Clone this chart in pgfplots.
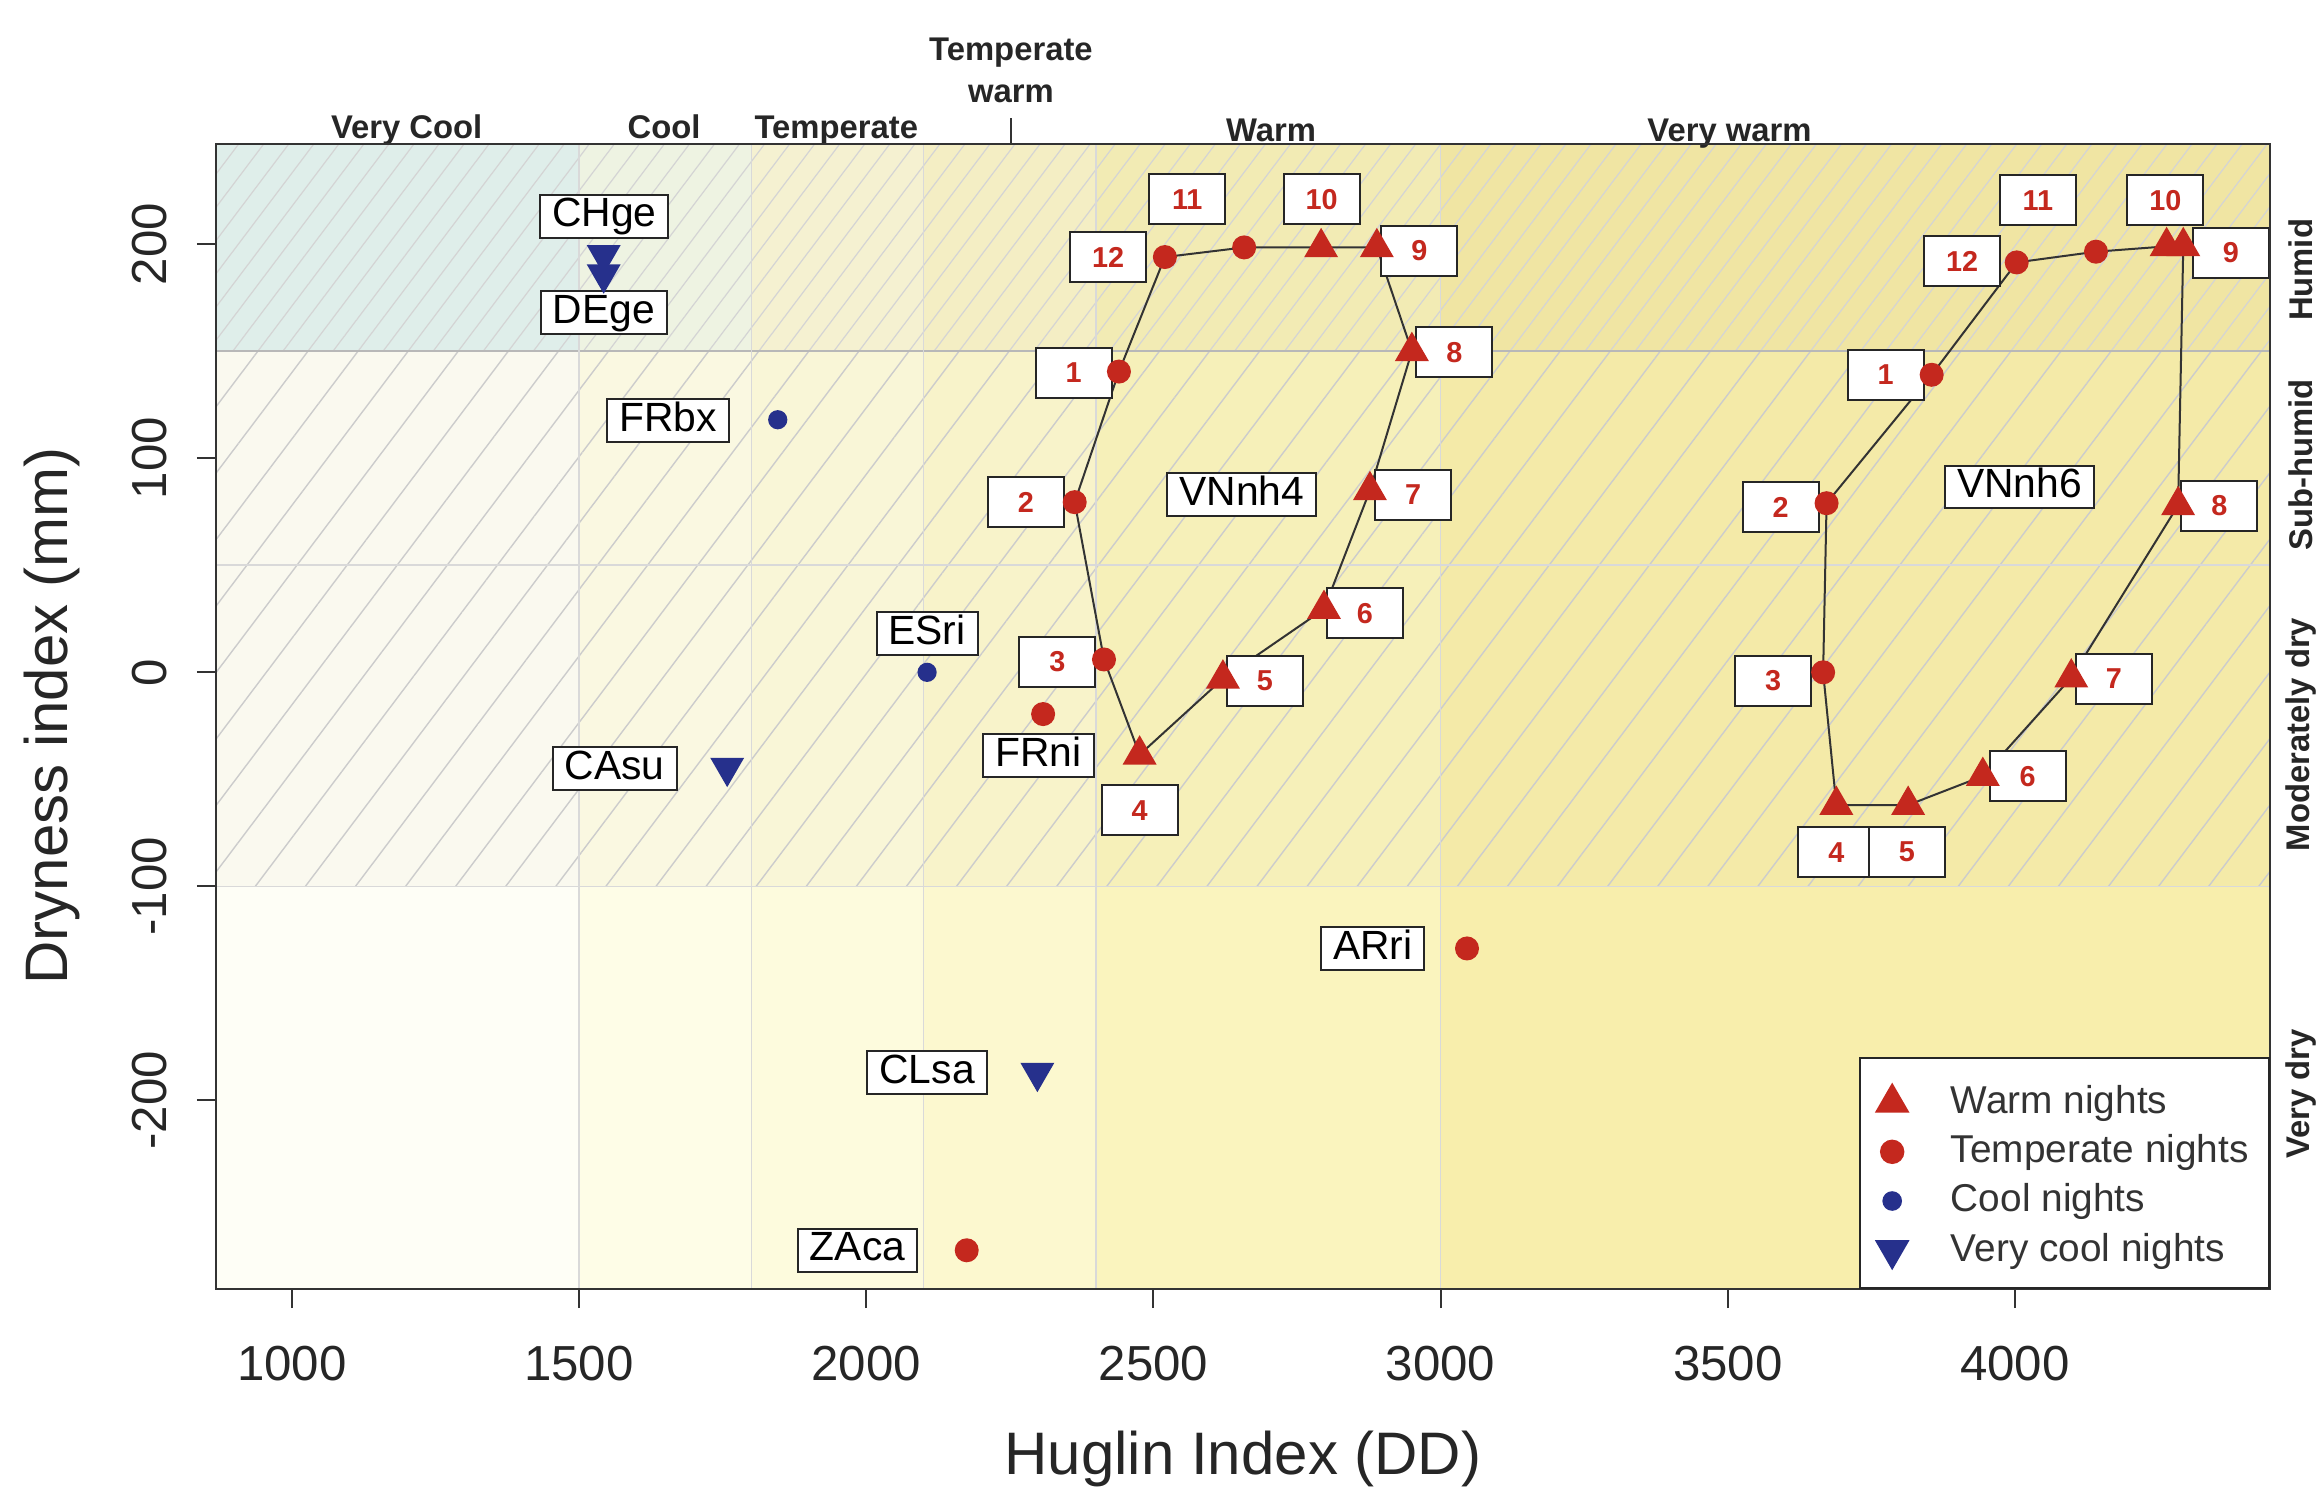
\documentclass[border=0pt]{standalone}
\usepackage{pgfplots}
\pgfplotsset{compat=1.18}
\usepackage{fontspec}
\setmainfont{Liberation Sans}
\usetikzlibrary{patterns.meta}

\definecolor{mred}{RGB}{196,40,30}
\definecolor{mblue}{RGB}{38,48,140}
\definecolor{bA}{RGB}{254,254,246}
\definecolor{bB}{RGB}{254,253,231}
\definecolor{bC}{RGB}{253,251,221}
\definecolor{bD}{RGB}{252,248,207}
\definecolor{bE}{RGB}{250,244,190}
\definecolor{bF}{RGB}{248,238,172}
\definecolor{tanov}{RGB}{150,120,50}
\definecolor{cyanov}{RGB}{205,232,232}

\tikzset{
  slab/.style={draw=black!85, line width=0.5pt, fill=white, text=black,
    font=\fontsize{10.2}{12}\selectfont, inner xsep=3pt, inner ysep=0.6pt,
    text height=7.4pt, text depth=2.1pt},
  mlab/.style={draw=black!85, line width=0.5pt, fill=white, text=mred,
    font=\bfseries\fontsize{7.2}{8}\selectfont, minimum width=19pt,
    minimum height=12.5pt, inner sep=0pt},
  toplab/.style={font=\bfseries\fontsize{8.2}{9}\selectfont, text=black!85, anchor=base},
  sidelab/.style={font=\bfseries\fontsize{8.2}{9}\selectfont, text=black!85, rotate=90, anchor=center},
}

\begin{document}
\begin{tikzpicture}
\useasboundingbox (-54pt,-50.55pt) rectangle (526.75pt,322.2pt);
\begin{axis}[
  at={(0,0)}, anchor=south west,
  width=513.5pt, height=286.3pt, scale only axis,
  xmin=868, xmax=4444, ymin=-288, ymax=247,
  clip=false, axis on top,
  xtick={1000,1500,2000,2500,3000,3500,4000},
  ytick={-200,-100,0,100,200},
  xtick pos=left, ytick pos=left,
  tick align=outside, major tick length=4.8pt,
  every tick/.style={black!80, line width=0.5pt},
  axis line style={black!80, line width=0.5pt},
  /pgf/number format/assume math mode=true,
  /pgf/number format/1000 sep={},
  tick label style={font=\fontsize{12.3}{14}\selectfont, text=black!85},
  xticklabel shift=6pt,
  yticklabel style={rotate=90, anchor=south},
  yticklabel shift=4pt,
  xlabel={Huglin Index (DD)}, ylabel={Dryness index (mm)},
  label style={font=\fontsize{15}{18}\selectfont, text=black!85},
  xlabel style={at={([yshift=-42.6pt]axis description cs:0.5,0)}, anchor=center},
  ylabel style={at={([xshift=-41pt]axis description cs:0,0.5)}, anchor=center},
  legend cell align=left,
  legend image post style={yshift=-1.6pt},
  legend style={at={(1,0)}, anchor=south east,
    draw=black!85, line width=0.5pt, fill=white,
    font=\fontsize{9.7}{11}\selectfont,
    inner xsep=4.1pt, inner ysep=4.9pt, row sep=3.1pt,
    nodes={inner xsep=0pt, inner ysep=0pt, text height=8.9pt, text depth=0.3pt, text=black!80},
    /tikz/every odd column/.append style={column sep=10.8pt}},
]
% ---- background bands ----
\addplot[draw=none, fill=bA, forget plot] coordinates {(868,-288) (1500,-288) (1500,247) (868,247)} -- cycle;
\addplot[draw=none, fill=bB, forget plot] coordinates {(1500,-288) (1800,-288) (1800,247) (1500,247)} -- cycle;
\addplot[draw=none, fill=bC, forget plot] coordinates {(1800,-288) (2100,-288) (2100,247) (1800,247)} -- cycle;
\addplot[draw=none, fill=bD, forget plot] coordinates {(2100,-288) (2400,-288) (2400,247) (2100,247)} -- cycle;
\addplot[draw=none, fill=bE, forget plot] coordinates {(2400,-288) (3000,-288) (3000,247) (2400,247)} -- cycle;
\addplot[draw=none, fill=bF, forget plot] coordinates {(3000,-288) (4444,-288) (4444,247) (3000,247)} -- cycle;
% overlays
\addplot[draw=none, fill=tanov, fill opacity=0.03, forget plot] coordinates {(868,-100) (4444,-100) (4444,247) (868,247)} -- cycle;
\addplot[draw=none, fill=tanov, fill opacity=0.035, forget plot] coordinates {(1800,150) (4444,150) (4444,247) (1800,247)} -- cycle;
\addplot[draw=none, fill=cyanov, fill opacity=0.6, forget plot] coordinates {(868,150) (1500,150) (1500,247) (868,247)} -- cycle;
\addplot[draw=none, fill=cyanov, fill opacity=0.25, forget plot] coordinates {(1500,150) (1800,150) (1800,247) (1500,247)} -- cycle;
% hatching
\addplot[draw=none, pattern={Lines[angle=53,distance=10pt,line width=0.35pt]}, pattern color=black!20, forget plot] coordinates {(868,-100) (4444,-100) (4444,150) (868,150)} -- cycle;
\addplot[draw=none, pattern={Lines[angle=53,distance=5pt,line width=0.3pt]}, pattern color=black!17, forget plot] coordinates {(868,150) (4444,150) (4444,247) (868,247)} -- cycle;
% class boundaries
\addplot[forget plot, black!28, line width=0.4pt] coordinates {(868,150) (4444,150)};
\addplot[forget plot, black!15, line width=0.4pt] coordinates {(868,50) (4444,50)};
\addplot[forget plot, black!15, line width=0.4pt] coordinates {(868,-100) (4444,-100)};
\addplot[forget plot, black!15, line width=0.4pt] coordinates {(1500,-288) (1500,247)};
\addplot[forget plot, black!15, line width=0.4pt] coordinates {(1800,-288) (1800,247)};
\addplot[forget plot, black!15, line width=0.4pt] coordinates {(2100,-288) (2100,247)};
\addplot[forget plot, black!15, line width=0.4pt] coordinates {(2400,-288) (2400,247)};
\addplot[forget plot, black!15, line width=0.4pt] coordinates {(3000,-288) (3000,247)};

% ---- monthly cycles ----
\addplot[forget plot, no markers, black!80, line width=0.5pt] coordinates {
 (2440,140.5) (2363,79.5) (2414,6) (2476,-38.5) (2621,-3) (2797,29.5)
 (2877,85) (2950,150) (2889,198.5) (2792,198.5) (2658,198.5) (2520,194) (2440,140.5)};
\addplot[forget plot, no markers, black!80, line width=0.5pt] coordinates {
 (3855,139) (3672,79) (3666,0) (3689,-62) (3814,-62) (3944,-48.5)
 (4098,-2.5) (4284,78) (4293,199) (4264,199) (4141,196.5) (4003,191.5) (3855,139)};

% ---- points ----
\addplot[only marks, mark=triangle*, mark size=4.5pt, color=mred] coordinates {
 (2476,-38.5) (2621,-3) (2797,29.5) (2877,85) (2950,150) (2889,198.5) (2792,198.5)
 (3689,-62) (3814,-62) (3944,-48.5) (4098,-2.5) (4284,78) (4293,199) (4264,199)};
\addlegendentry{Warm nights}
\addplot[only marks, mark=*, mark size=2.8pt, color=mred] coordinates {
 (2658,198.5) (2520,194) (2440,140.5) (2363,79.5) (2414,6)
 (4141,196.5) (4003,191.5) (3855,139) (3672,79) (3666,0)
 (2308,-19.5) (2175,-270) (3046,-129)};
\addlegendentry{Temperate nights\hspace*{1pt}}
\addplot[only marks, mark=*, mark size=2.2pt, color=mblue] coordinates {
 (1846,118) (2106,0)};
\addlegendentry{Cool nights}
\addplot[only marks, mark=triangle*, mark size=4.5pt, color=mblue, mark options={rotate=180}] coordinates {
 (1543,195) (1543,186) (1758,-44.5) (2298,-187)};
\addlegendentry{Very cool nights}

% ---- site labels ----
\node[slab] at (axis cs:1544,213) {CHge};
\node[slab] at (axis cs:1543,168) {DEge};
\node[slab] at (axis cs:1655,117.6) {FRbx};
\node[slab] at (axis cs:2106,18) {ESri};
\node[slab] at (axis cs:1562,-45) {CAsu};
\node[slab] at (axis cs:2106,-187) {CLsa};
\node[slab] at (axis cs:2300,-39) {FRni};
\node[slab] at (axis cs:1985,-270) {ZAca};
\node[slab] at (axis cs:2882,-129) {ARri};
\node[slab] at (axis cs:2654,83) {VNnh4};
\node[slab] at (axis cs:4008,86.6) {VNnh6};

% ---- month labels VNnh4 ----
\node[mlab] at (axis cs:2361,140) {1};
\node[mlab] at (axis cs:2278,79.5) {2};
\node[mlab] at (axis cs:2333,5) {3};
\node[mlab] at (axis cs:2476,-64.5) {4};
\node[mlab] at (axis cs:2694,-4) {5};
\node[mlab] at (axis cs:2868,27.5) {6};
\node[mlab] at (axis cs:2952,83) {7};
\node[mlab] at (axis cs:3024,149.5) {8};
\node[mlab] at (axis cs:2963,197) {9};
\node[mlab] at (axis cs:2793,221) {10};
\node[mlab] at (axis cs:2559,221) {11};
\node[mlab] at (axis cs:2421,194) {12};
% ---- month labels VNnh6 ----
\node[mlab] at (axis cs:3775,139) {1};
\node[mlab] at (axis cs:3592,77) {2};
\node[mlab] at (axis cs:3579,-4) {3};
\node[mlab] at (axis cs:3689,-84) {4};
\node[mlab] at (axis cs:3812,-84) {5};
\node[mlab] at (axis cs:4022,-48.6) {6};
\node[mlab] at (axis cs:4172,-3) {7};
\node[mlab] at (axis cs:4356,77.7) {8};
\node[mlab] at (axis cs:4376,196) {9};
\node[mlab] at (axis cs:4262,220.5) {10};
\node[mlab] at (axis cs:4040,220.5) {11};
\node[mlab] at (axis cs:3908,192) {12};

% ---- top class labels ----
\node[toplab] at ([yshift=1.2pt]axis cs:1200,247) {Very Cool};
\node[toplab] at ([yshift=1.2pt]axis cs:1648,247) {Cool};
\node[toplab] at ([yshift=1.2pt]axis cs:1948,247) {Temperate};
\node[toplab] at ([yshift=10.25pt]axis cs:2252,247) {warm};
\node[toplab] at ([yshift=20.8pt]axis cs:2252,247) {Temperate};
\draw[black!80, line width=0.5pt] (axis cs:2252,247) -- ([yshift=6.5pt]axis cs:2252,247);
\node[toplab] at ([yshift=0.6pt]axis cs:2705,247) {Warm};
\node[toplab] at ([yshift=0.6pt]axis cs:3503,247) {Very warm};
% ---- side class labels ----
\node[sidelab] at ([xshift=7.75pt]axis cs:4444,188) {Humid};
\node[sidelab] at ([xshift=7.75pt]axis cs:4444,97) {Sub-humid};
\node[sidelab] at ([xshift=7.75pt]axis cs:4444,-29) {Moderately dry};
\node[sidelab] at ([xshift=7.75pt]axis cs:4444,-197) {Very dry};
\end{axis}
\end{tikzpicture}
\end{document}
